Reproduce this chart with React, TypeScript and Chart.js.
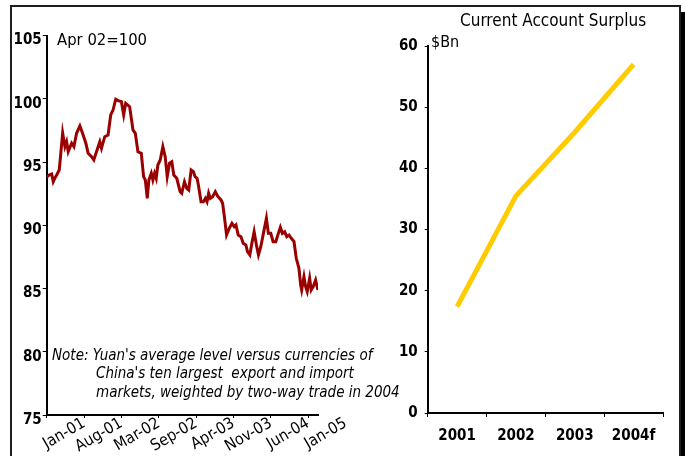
import React, { useEffect, useRef } from 'react';
import { Chart, registerables } from 'chart.js';

Chart.register(...registerables);

const FONT = "'DejaVu Sans Condensed', 'DejaVu Sans', sans-serif";

// Trade-weighted yuan index, Apr 02 = 100. x is months since Jan 2000.
const yuanMonths = [
  5.0, 5.43, 5.93, 6.23, 6.55, 6.87, 7.35, 7.67, 7.99, 8.42, 8.73, 9.03, 9.67, 10.1, 10.6, 11.22,
  11.72, 12.34, 12.77, 13.4, 13.83, 14.33, 14.95, 15.27, 15.88, 16.5, 17.0, 17.43, 17.94, 18.37,
  19.0, 19.43, 19.8, 20.55, 21.17, 21.61, 22.1, 22.73, 23.16, 23.48, 23.85, 24.15, 24.6, 24.9,
  25.22, 25.53, 25.83, 26.28, 26.77, 27.21, 27.59, 28.02, 28.45, 28.82, 29.38, 30.01, 30.31,
  30.82, 31.25, 31.62, 32.07, 32.5, 32.81, 33.19, 33.43, 33.93, 34.36, 34.74, 35.05, 35.35,
  35.67, 36.1, 36.6, 37.03, 37.67, 37.97, 38.34, 38.71, 39.22, 39.72, 40.15, 40.47, 40.9, 41.4,
  41.83, 42.33, 42.63, 43.08, 43.45, 43.88, 44.31, 44.69, 45.13, 45.62, 46.18, 46.55, 47.0,
  47.43, 47.93, 48.42, 48.79, 49.17, 49.61, 49.99, 50.42, 50.85, 51.35, 51.78, 52.28, 52.6,
  52.79, 53.22, 53.53, 53.83, 54.28, 54.58, 54.95, 55.4, 55.83,
];
const yuanIndex = [
  93.81, 93.97, 94.05, 93.44, 93.74, 93.97, 94.37, 95.81, 97.29, 96.21, 96.6, 95.81, 96.48, 96.21,
  97.27, 97.85, 97.27, 96.48, 95.69, 95.42, 95.16, 95.81, 96.6, 96.08, 97.0, 97.13, 98.72, 99.11,
  99.96, 99.85, 99.77, 98.72, 99.64, 99.37, 97.53, 97.27, 95.81, 95.69, 93.84, 93.58, 92.13,
  93.58, 94.11, 93.58, 94.11, 93.71, 94.76, 95.16, 96.21, 95.42, 93.84, 94.9, 95.02, 93.97, 93.71,
  92.65, 92.53, 93.44, 92.92, 92.79, 94.37, 94.23, 93.84, 93.71, 93.18, 91.86, 91.86, 92.13,
  91.86, 92.53, 92.13, 92.26, 92.65, 92.31, 92.0, 91.74, 90.55, 89.23, 89.76, 90.15, 89.89,
  90.02, 89.23, 89.1, 88.57, 88.44, 87.91, 87.65, 88.57, 89.49, 88.44, 87.65, 88.3, 89.36, 90.55,
  89.36, 89.36, 88.7, 88.7, 89.36, 89.84, 89.36, 89.49, 89.1, 89.23, 88.97, 88.7, 87.39, 86.6,
  85.28, 84.88, 85.93, 85.14, 84.75, 85.81, 84.88, 85.14, 85.67, 84.88,
];

// Date axis: one tick every seven months, the first one unlabeled.
const dateTickValues = [5, 12, 19, 26, 33, 40, 47, 54, 61];
const dateTickLabels = ['', 'Jan-01', 'Aug-01', 'Mar-02', 'Sep-02', 'Apr-03', 'Nov-03', 'Jun-04', 'Jan-05'];

// Current account surplus, $Bn
const surplusYears = ['2001', '2002', '2003', '2004f'];
const surplusBn = [17.4, 35.5, 45.9, 57.0];

const zeroPad = (s: any) => {
  s.paddingLeft = 0;
  s.paddingRight = 0;
  s.paddingTop = 0;
  s.paddingBottom = 0;
};

function YuanChart() {
  const ref = useRef<HTMLCanvasElement>(null);
  useEffect(() => {
    const chart = new Chart(ref.current!, {
      type: 'line',
      data: {
        datasets: [
          {
            data: yuanMonths.map((m, i) => ({ x: m, y: yuanIndex[i] })),
            borderColor: '#9a0000',
            borderWidth: 3,
            pointRadius: 0,
            tension: 0,
          },
        ],
      },
      options: {
        animation: false,
        responsive: false,
        maintainAspectRatio: false,
        layout: { padding: { left: 0, top: 35.5, right: 42, bottom: 0 } },
        plugins: { legend: { display: false }, tooltip: { enabled: false } },
        scales: {
          x: {
            type: 'linear',
            min: 5,
            max: 55.85,
            afterBuildTicks: (s: any) => {
              s.ticks = dateTickValues.map((v) => ({ value: v }));
            },
            afterFit: (s: any) => {
              s.height = 41;
              zeroPad(s);
            },
            border: { display: true, color: '#000', width: 2 },
            grid: {
              drawOnChartArea: false,
              tickLength: 3,
              tickColor: (c: any) => (c.tick && c.tick.value > 56 ? 'rgba(0,0,0,0)' : '#000'),
              tickWidth: 1,
            },
            ticks: {
              autoSkip: false,
              minRotation: 30,
              maxRotation: 30,
              padding: -4,
              color: '#000',
              font: { family: FONT, size: 16 },
              callback: (v: any) => dateTickLabels[dateTickValues.indexOf(v)] ?? '',
            },
          },
          y: {
            min: 75,
            max: 105,
            afterFit: (s: any) => {
              s.width = 46.7;
              zeroPad(s);
            },
            border: { display: true, color: '#000', width: 2 },
            grid: { drawOnChartArea: false, tickLength: 4, tickColor: '#000', tickWidth: 1 },
            ticks: {
              stepSize: 5,
              padding: 1,
              labelOffset: 5,
              color: '#000',
              font: { family: FONT, size: 15, weight: 'bold' },
            },
          },
        },
      },
    });
    return () => chart.destroy();
  }, []);
  return (
    <canvas
      ref={ref}
      width={360}
      height={456}
      style={{ position: 'absolute', left: 0, top: 0, width: 360, height: 456 }}
    />
  );
}

function SurplusChart() {
  const ref = useRef<HTMLCanvasElement>(null);
  useEffect(() => {
    const chart = new Chart(ref.current!, {
      type: 'line',
      data: {
        labels: surplusYears,
        datasets: [
          {
            data: surplusBn,
            borderColor: '#ffcc00',
            borderWidth: 5,
            pointRadius: 0,
            tension: 0,
          },
        ],
      },
      options: {
        animation: false,
        responsive: false,
        maintainAspectRatio: false,
        layout: { padding: { left: 0, top: 46, right: 22, bottom: 0 } },
        plugins: { legend: { display: false }, tooltip: { enabled: false } },
        scales: {
          x: {
            offset: true,
            afterFit: (s: any) => {
              s.height = 43;
              zeroPad(s);
            },
            border: { display: true, color: '#000', width: 2 },
            grid: { offset: true, drawOnChartArea: false, tickLength: 4, tickColor: '#000', tickWidth: 1 },
            ticks: {
              maxRotation: 0,
              padding: 10,
              color: '#000',
              font: { family: FONT, size: 15, weight: 'bold' },
            },
          },
          y: {
            min: 0,
            max: 60,
            afterFit: (s: any) => {
              s.width = 47.7;
              zeroPad(s);
            },
            border: { display: true, color: '#000', width: 2 },
            grid: { drawOnChartArea: false, tickLength: 3, tickColor: '#000', tickWidth: 1 },
            ticks: {
              stepSize: 10,
              padding: 7,
              color: '#000',
              font: { family: FONT, size: 15, weight: 'bold' },
            },
          },
        },
      },
    });
    return () => chart.destroy();
  }, []);
  return (
    <canvas
      ref={ref}
      width={305}
      height={456}
      style={{ position: 'absolute', left: 380, top: 0, width: 305, height: 456 }}
    />
  );
}

const textBase: React.CSSProperties = {
  position: 'absolute',
  fontFamily: FONT,
  color: '#000',
  lineHeight: 1,
  whiteSpace: 'pre',
};

export default function App() {
  return (
    <div
      style={{
        position: 'fixed',
        left: 0,
        top: 0,
        width: 685,
        height: 456,
        overflow: 'hidden',
        background: '#fff',
      }}
    >
      <div
        style={{
          position: 'absolute',
          left: 10,
          top: 5,
          width: 671,
          height: 470,
          boxSizing: 'border-box',
          border: '2px solid #1e1e1e',
          boxShadow: '5px 7px 0 #000',
          background: '#fff',
        }}
      />
      <YuanChart />
      <SurplusChart />
      <div style={{ ...textBase, left: 57, top: 32, fontSize: 16.5 }}>Apr 02=100</div>
      <div style={{ ...textBase, left: 460, top: 12, fontSize: 17 }}>Current Account Surplus</div>
      <div style={{ ...textBase, left: 431, top: 34, fontSize: 16 }}>$Bn</div>
      <div style={{ ...textBase, left: 52, top: 348, fontSize: 15, fontStyle: 'italic' }}>
        {"Note: Yuan's average level versus currencies of"}
      </div>
      <div style={{ ...textBase, left: 96, top: 366, fontSize: 15, fontStyle: 'italic' }}>
        {"China's ten largest  export and import"}
      </div>
      <div style={{ ...textBase, left: 96, top: 385, fontSize: 15, fontStyle: 'italic' }}>
        {'markets, weighted by two-way trade in 2004'}
      </div>
    </div>
  );
}
